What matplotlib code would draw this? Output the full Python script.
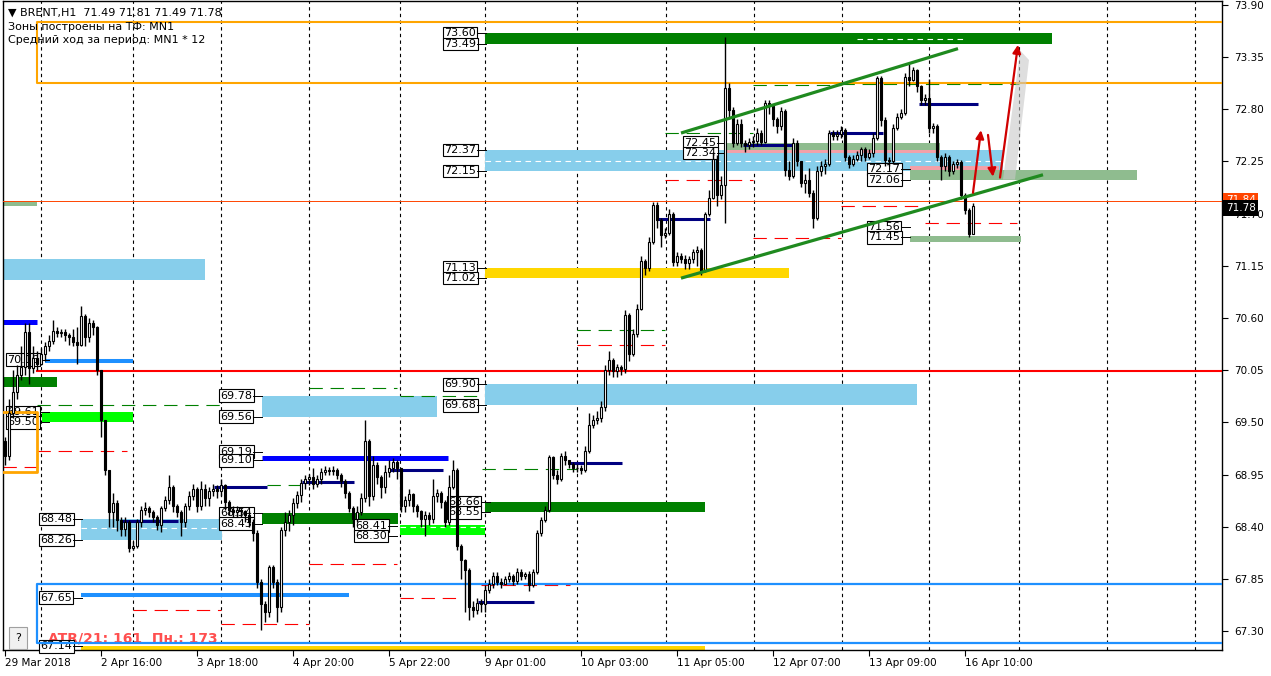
import numpy as np
import matplotlib
matplotlib.use("Agg")
import matplotlib.pyplot as plt
from matplotlib.patches import Rectangle, Polygon
from matplotlib.transforms import blended_transform_factory

plt.rcParams['font.family'] = ['DejaVu Sans']

# ---------------- data (hourly BRENT candles) ----------------
first_open = 69.30
closes = [
    69.15, 69.60, 69.82, 70.00, 70.08, 70.45, 70.07, 70.18, 70.12, 70.22,
    70.30, 70.36, 70.46, 70.44, 70.45, 70.42, 70.40, 70.35, 70.32, 70.62,
    70.40, 70.55, 70.50, 70.05, 69.52, 69.00, 68.55, 68.65, 68.47, 68.38,
    68.45, 68.18, 68.20, 68.45, 68.58, 68.60, 68.55, 68.50, 68.42, 68.60,
    68.68, 68.82, 68.62, 68.55, 68.45, 68.62, 68.72, 68.80, 68.62, 68.80,
    68.70, 68.78, 68.80, 68.78, 68.84, 68.66, 68.58, 68.55, 68.58, 68.56,
    68.52, 68.45, 68.33, 67.82, 67.58, 67.50, 67.97, 67.82, 67.55, 68.36,
    68.45, 68.52, 68.65, 68.73, 68.86, 68.90, 68.92, 68.85, 68.90, 68.98,
    69.00, 68.99, 69.00, 68.95, 68.88, 68.76, 68.60, 68.48, 68.55, 68.70,
    69.30, 68.72, 69.05, 68.92, 68.82, 68.98, 69.02, 69.08, 69.02, 68.62,
    68.68, 68.74, 68.62, 68.56, 68.48, 68.52, 68.48, 68.72, 68.76, 68.66,
    68.45, 68.82, 69.00, 68.20, 68.05, 67.94, 67.55, 67.52, 67.60, 67.58,
    67.73, 67.80, 67.88, 67.82, 67.80, 67.85, 67.88, 67.83, 67.92, 67.88,
    67.90, 67.78, 67.92, 68.33, 68.47, 68.58, 69.13, 68.95, 68.90, 69.15,
    69.10, 69.06, 69.02, 69.02, 69.00, 69.20, 69.47, 69.52, 69.55, 69.66,
    70.05, 70.16, 70.04, 70.08, 70.06, 70.63, 70.22, 70.43, 70.70, 71.20,
    71.13, 71.40, 71.79, 71.63, 71.47, 71.50, 71.70, 71.19, 71.25, 71.22,
    71.18, 71.22, 71.30, 71.32, 71.10, 71.70, 71.87, 72.28, 71.90, 72.00,
    73.02, 72.79, 72.45, 72.65, 72.45, 72.42, 72.46, 72.47, 72.55, 72.46,
    72.87, 72.84, 72.70, 72.62, 72.78, 72.16, 72.10, 72.45, 72.25, 72.02,
    72.05, 71.92, 71.65, 72.15, 72.20, 72.22, 72.55, 72.52, 72.54, 72.58,
    72.30, 72.22, 72.28, 72.32, 72.38, 72.30, 72.34, 72.50, 73.13, 72.69,
    72.27, 72.25, 72.60, 72.72, 72.76, 73.14, 73.11, 73.21, 73.05, 72.90,
    72.92, 72.60, 72.62, 72.30, 72.20, 72.30, 72.15, 72.22, 72.24, 71.90,
    71.74, 71.49, 71.78]
highs = [
    69.35, 69.75, 70.05, 70.10, 70.30, 70.55, 70.55, 70.30, 70.25, 70.28,
    70.35, 70.42, 70.58, 70.50, 70.48, 70.48, 70.44, 70.48, 70.50, 70.73,
    70.64, 70.60, 70.58, 70.52, 70.05, 69.52, 69.00, 68.75, 68.68, 68.50,
    68.50, 68.47, 68.25, 68.48, 68.62, 68.66, 68.62, 68.58, 68.52, 68.62,
    68.72, 68.95, 68.84, 68.64, 68.58, 68.65, 68.78, 68.85, 68.82, 68.88,
    68.85, 68.82, 68.85, 68.84, 68.90, 68.85, 68.68, 68.62, 68.62, 68.60,
    68.58, 68.56, 68.48, 68.36, 67.85, 67.62, 68.00, 68.00, 67.85, 68.40,
    68.55, 68.58, 68.70, 68.78, 68.90, 68.95, 68.96, 69.02, 68.95, 69.02,
    69.04, 69.03, 69.04, 69.02, 68.97, 68.90, 68.78, 68.62, 68.62, 68.75,
    69.52, 69.32, 69.15, 69.08, 68.95, 69.05, 69.10, 69.12, 69.10, 69.02,
    68.72, 68.80, 68.76, 68.64, 68.58, 68.56, 68.55, 68.90, 68.80, 68.78,
    68.68, 68.95, 69.10, 69.02, 68.22, 68.06, 67.96, 67.62, 67.65, 67.64,
    67.78, 67.85, 67.92, 67.92, 67.86, 67.88, 67.92, 67.90, 67.96, 67.95,
    67.92, 67.93, 67.95, 68.36, 68.50, 68.62, 69.16, 69.15, 69.00, 69.18,
    69.20, 69.10, 69.08, 69.06, 69.05, 69.25, 69.60, 69.58, 69.62, 69.72,
    70.10, 70.25, 70.18, 70.12, 70.10, 70.68, 70.65, 70.48, 70.75, 71.25,
    71.22, 71.45, 71.82, 71.82, 71.65, 71.55, 71.75, 71.72, 71.30, 71.28,
    71.26, 71.25, 71.33, 71.36, 71.34, 71.72, 71.95, 72.35, 72.32, 72.10,
    73.56, 73.08, 72.82, 72.70, 72.70, 72.48, 72.50, 72.52, 72.60, 72.58,
    72.90, 72.90, 72.85, 72.72, 72.82, 72.80, 72.25, 72.50, 72.48, 72.25,
    72.12, 72.18, 71.95, 72.20, 72.25, 72.28, 72.58, 72.58, 72.58, 72.62,
    72.60, 72.32, 72.32, 72.36, 72.40, 72.40, 72.38, 72.55, 73.15, 73.15,
    72.72, 72.30, 72.65, 72.76, 72.80, 73.18, 73.28, 73.25, 73.22, 73.06,
    72.96, 73.12, 72.66, 72.64, 72.32, 72.34, 72.32, 72.26, 72.28, 72.27,
    71.92, 71.76, 71.81]
lows = [
    69.05, 69.10, 69.55, 69.75, 69.95, 70.00, 69.90, 70.02, 70.05, 70.10,
    70.15, 70.25, 70.33, 70.40, 70.40, 70.36, 70.32, 70.30, 70.12, 70.30,
    70.30, 70.35, 70.42, 70.00, 69.35, 68.95, 68.40, 68.40, 68.35, 68.30,
    68.30, 68.13, 68.15, 68.18, 68.40, 68.52, 68.50, 68.45, 68.36, 68.34,
    68.56, 68.64, 68.55, 68.50, 68.30, 68.40, 68.58, 68.68, 68.55, 68.58,
    68.62, 68.62, 68.72, 68.70, 68.72, 68.58, 68.52, 68.50, 68.50, 68.50,
    68.45, 68.40, 68.25, 67.75, 67.31, 67.40, 67.45, 67.75, 67.40, 67.50,
    68.30, 68.35, 68.42, 68.60, 68.66, 68.80, 68.84, 68.80, 68.82, 68.85,
    68.95, 68.95, 68.95, 68.90, 68.82, 68.70, 68.55, 68.40, 68.45, 68.52,
    68.66, 68.62, 68.68, 68.85, 68.70, 68.75, 68.92, 68.98, 68.90, 68.55,
    68.55, 68.62, 68.55, 68.50, 68.40, 68.30, 68.42, 68.44, 68.66, 68.60,
    68.40, 68.42, 68.80, 68.15, 67.85, 67.50, 67.42, 67.45, 67.48, 67.50,
    67.50, 67.70, 67.75, 67.78, 67.75, 67.80, 67.82, 67.78, 67.80, 67.84,
    67.85, 67.72, 67.76, 67.90, 68.30, 68.45, 68.55, 68.90, 68.85, 68.88,
    69.05, 69.02, 68.98, 68.98, 68.96, 68.98, 69.18, 69.44, 69.48, 69.50,
    69.62, 70.00, 69.98, 69.98, 70.00, 70.02, 70.15, 70.20, 70.40, 70.68,
    71.05, 71.10, 71.38, 71.55, 71.35, 71.44, 71.48, 71.15, 71.15, 71.18,
    71.12, 71.12, 71.18, 71.15, 71.05, 71.08, 71.68, 71.85, 71.78, 71.85,
    71.60, 72.70, 72.40, 72.42, 72.40, 72.35, 72.38, 72.40, 72.42, 72.42,
    72.44, 72.75, 72.62, 72.55, 72.58, 72.10, 72.05, 72.08, 72.20, 71.98,
    71.92, 71.88, 71.55, 71.63, 72.10, 72.12, 72.20, 72.48, 72.48, 72.50,
    72.25, 72.18, 72.20, 72.26, 72.25, 72.26, 72.28, 72.30, 72.48, 72.62,
    72.20, 72.20, 72.22, 72.58, 72.70, 72.74, 73.05, 73.10, 72.98, 72.85,
    72.85, 72.55, 72.55, 72.25, 72.05, 72.15, 72.10, 72.12, 72.18, 71.85,
    71.70, 71.45, 71.49]
opens = [first_open] + closes[:-1]

time_labels = ["29 Mar 2018", "2 Apr 16:00", "3 Apr 18:00", "4 Apr 20:00",
               "5 Apr 22:00", "9 Apr 01:00", "10 Apr 03:00", "11 Apr 05:00",
               "12 Apr 07:00", "13 Apr 09:00", "16 Apr 10:00"]
price_ticks = [73.90, 73.35, 72.80, 72.25, 71.70, 71.15, 70.60, 70.05,
               69.50, 68.95, 68.40, 67.85, 67.30]

# zones: (bar_from, bar_to, low, high)
sky_zones = [(120, 249.5, 72.15, 72.37), (-0.5, 50, 71.00, 71.22),
             (64.25, 108, 69.56, 69.78), (120, 228, 69.68, 69.90),
             (19, 54.25, 68.26, 68.48)]
gold_zones = [(120, 196, 71.02, 71.13), (19, 175, 67.05, 67.14)]
dgreen_zones = [(120, 261.75, 73.49, 73.60), (120, 175, 68.55, 68.66),
                (64.25, 98.25, 68.43, 68.54), (-0.5, 13, 69.87, 69.98)]
lime_zones = [(9.25, 32, 69.50, 69.61), (98.75, 120, 68.31, 68.42)]
pink_zones = [(180.25, 233.75, 72.34, 72.37), (226.25, 248.5, 72.16, 72.20)]
sage_zones = [(-0.5, 8, 71.78, 71.83), (180.25, 233.75, 72.37, 72.45),
              (226.25, 283, 72.05, 72.16), (226.25, 254, 71.40, 71.46)]

navy_levels = [(29.25, 43.25, 68.46), (52.25, 65.5, 68.82), (74.25, 87.25, 68.87),
               (96.25, 109.5, 69.00), (118.25, 132.25, 67.61), (141.25, 154.25, 69.07),
               (163.25, 176.25, 71.64), (184.5, 197, 72.42), (206.25, 219.5, 72.55),
               (228.5, 243.25, 72.86)]
blue_levels = [(-0.5, 8, 70.555), (64.25, 110.75, 69.125)]
dodger_levels = [(10, 32, 70.15), (19, 86, 67.68)]
red_dash_levels = [(8, 30.5, 69.20), (-0.5, 8, 69.03), (32, 54, 67.52), (54, 76, 67.37),
                   (76, 98, 68.01), (98.75, 114.5, 67.65), (119, 141.25, 67.79),
                   (143, 165, 70.32), (165, 187, 72.05), (187, 209, 71.44),
                   (209, 230, 71.78), (230, 253, 71.60)]
green_dash_levels = [(8, 54, 69.68), (65.5, 76, 68.84), (76, 98, 69.86),
                     (98.75, 118.75, 69.78), (119.25, 143, 69.01), (143, 165, 70.47),
                     (165, 187, 72.55), (187, 209, 73.06), (209, 253.5, 73.07)]

orange_box_top = (8, 73.08, 73.72)
orange_box_left = (8, 68.98, 69.61)
blue_box = (8, 67.17, 67.80)
red_level = (8, 70.04)
ask_level = 71.83
bid_price = 71.78
ask_price = 71.84

channel_upper = [(169, 72.55), (238.25, 73.44)]
channel_lower = [(169, 71.02), (259.5, 72.11)]
arrows = [((242, 71.92), (244, 72.58)),
          ((245.75, 72.53), (247, 72.09)),
          ((248.75, 72.08), (253.25, 73.48))]

# price labels: (bar_left, price)
label_boxes = [(109.5, 73.60), (109.5, 73.49), (109.5, 72.37), (109.5, 72.15),
               (109.5, 71.13), (109.5, 71.02), (109.5, 69.90), (109.5, 69.68),
               (110.5, 68.66), (110.5, 68.55),
               (53.5, 69.78), (53.5, 69.56), (53.5, 69.19), (53.5, 69.10),
               (53.5, 68.54), (53.5, 68.43), (87.25, 68.41), (87.25, 68.30),
               (8.5, 68.48), (8.5, 68.26), (8.5, 67.65), (8.5, 67.14),
               (0.25, 70.16), (0.25, 69.61), (0.25, 69.50),
               (169.5, 72.45), (169.5, 72.34),
               (215.5, 72.17), (215.5, 72.06), (215.5, 71.56), (215.5, 71.45)]

# ---------------- figure ----------------
W, H = 1271, 676
fig = plt.figure(figsize=(W / 100, H / 100), dpi=100)
fig.patch.set_facecolor('white')
ax = fig.add_axes([3 / W, 1 - 650 / H, (1222 - 3) / W, 649 / H])
ax.set_facecolor('white')
XMAX = 304.25
ax.set_xlim(-0.5, XMAX)
ax.set_ylim(67.0998, 73.942)

# grid (vertical dotted)
grid_px = [41, 133, 221, 309, 400, 485, 577, 666, 754, 842, 929, 1019, 1107, 1195]
for gp in grid_px:
    ax.axvline((gp - 5) / 4, color='black', lw=0.8, ls=(0, (3, 3)), zorder=0.5)

def zone(lst, color, z=1.0):
    for x0, x1, lo, hi in lst:
        ax.add_patch(Rectangle((x0, lo), x1 - x0, hi - lo, facecolor=color,
                               edgecolor='none', zorder=z))

zone(sky_zones, '#87CEEB')
zone(gold_zones, '#FFD700')
zone(dgreen_zones, '#008000')
zone(lime_zones, '#00FF00')
zone(pink_zones, '#F2A0A8', 1.1)
zone(sage_zones, '#8FBC8F', 1.1)

# white dashed mid-lines inside some zones
for x0, x1, p in [(120, 249.5, 72.26), (19, 54.25, 68.39), (98.75, 120, 68.40),
                  (213, 240, 73.545)]:
    ax.plot([x0, x1], [p, p], color='white', lw=0.8, ls=(0, (5, 4)), zorder=1.5)

# ATR text (under lines)
ax.text(10.75, 67.175, 'ATR/21: 161  Пн.: 173', color='#FF4F4F', fontsize=10,
        fontweight='bold', ha='left', va='baseline', zorder=2, clip_on=True)

for x0, x1, p in red_dash_levels:
    ax.plot([x0, x1], [p, p], color='#FF0000', lw=0.8, ls=(0, (12, 7)), zorder=2)
for x0, x1, p in green_dash_levels:
    ax.plot([x0, x1], [p, p], color='#008000', lw=0.8, ls=(0, (12, 7)), zorder=2)
for x0, x1, p in navy_levels:
    ax.plot([x0, x1], [p, p], color='#000080', lw=2.2, solid_capstyle='butt', zorder=2.5)
for x0, x1, p in blue_levels:
    ax.plot([x0, x1], [p, p], color='#0000FF', lw=3.6, solid_capstyle='butt', zorder=2.5)
for x0, x1, p in dodger_levels:
    ax.plot([x0, x1], [p, p], color='#1E90FF', lw=2.9, solid_capstyle='butt', zorder=2.5)

# rectangles outlines and level lines
bx, lo, hi = orange_box_top
ax.plot([XMAX + 5, bx, bx, XMAX + 5], [hi, hi, lo, lo], color='#FFA500', lw=1.5, zorder=4)
bx, lo, hi = orange_box_left
ax.plot([-5, bx, bx, -5], [hi, hi, lo, lo], color='#FFA500', lw=2.0, zorder=4)
bx, lo, hi = blue_box
ax.plot([XMAX + 5, bx, bx, XMAX + 5], [hi, hi, lo, lo], color='#1E90FF', lw=1.6, zorder=4)
ax.plot([red_level[0], XMAX + 5], [red_level[1]] * 2, color='#FF0000', lw=1.5, zorder=4)
ax.plot([-1, XMAX + 5], [ask_level] * 2, color='#FF4500', lw=0.7, zorder=4)

# label boxes
for lx, p in label_boxes:
    ax.text(lx + 0.35, p, f"{p:.2f}", fontsize=8, color='black', ha='left', va='center',
            zorder=3, bbox=dict(boxstyle='square,pad=0.12', fc='white', ec='black', lw=0.8))
    ax.plot([lx + 8.4, lx + 10.75], [p, p], color='black', lw=0.7, zorder=3)

# candles
x = np.arange(len(closes))
o = np.array(opens)
c = np.array(closes)
h = np.array(highs)
l = np.array(lows)
up = c >= o
ax.vlines(x, l, h, color='black', lw=1.0, zorder=5)
bottom = np.minimum(o, c)
height = np.abs(c - o)
ax.bar(x[up], height[up], bottom=bottom[up], width=0.7, color='white',
       edgecolor='black', linewidth=0.8, zorder=6)
ax.bar(x[~up], height[~up], bottom=bottom[~up], width=0.7, color='black',
       edgecolor='black', linewidth=0.8, zorder=6)

# channel
for seg in (channel_upper, channel_lower):
    ax.plot([seg[0][0], seg[1][0]], [seg[0][1], seg[1][1]], color='#1F8A1F', lw=2.3,
            solid_capstyle='butt', zorder=7)

# shadow and arrows
ax.add_patch(Polygon([(249.5, 72.06), (252.5, 72.06), (256.0, 73.32), (253.8, 73.42)],
                     closed=True, facecolor='#C8C8C8', edgecolor='none', alpha=0.6, zorder=6.5))
for (x0, y0), (x1, y1) in arrows:
    ax.annotate('', xy=(x1, y1), xytext=(x0, y0),
                arrowprops=dict(arrowstyle='-|>', color='#D00000', lw=1.6,
                                mutation_scale=12, shrinkA=0, shrinkB=0), zorder=8)

# axes styling
for s in ax.spines.values():
    s.set_color('black')
    s.set_linewidth(1.0)
ax.yaxis.tick_right()
ax.set_yticks(price_ticks)
ax.set_yticklabels([f"{p:.2f}" for p in price_ticks])
ax.tick_params(axis='y', direction='out', length=4, width=0.8, labelsize=7.5, pad=5,
               colors='black')
ax.set_xticks(np.arange(len(time_labels)) * 24)
ax.set_xticklabels(time_labels)
ax.tick_params(axis='x', direction='out', length=4, width=0.8, labelsize=7.5, pad=2)
for lbl in ax.get_xticklabels():
    lbl.set_horizontalalignment('left')

# right-axis price boxes
trans = blended_transform_factory(ax.transAxes, ax.transData)
ax.text(1.003, ask_price, f"{ask_price:.2f}", transform=trans, fontsize=7.5, color='white',
        ha='left', va='center', clip_on=False, zorder=10,
        bbox=dict(boxstyle='square,pad=0.25', fc='#FF4500', ec='none'))
ax.text(1.003, bid_price - 0.02, f"{bid_price:.2f}", transform=trans, fontsize=7.5,
        color='white', ha='left', va='center', clip_on=False, zorder=11,
        bbox=dict(boxstyle='square,pad=0.25', fc='black', ec='none'))

# header texts
fig.text(8 / W, 1 - 13 / H, '▼ BRENT,H1  71.49 71.81 71.49 71.78', fontsize=8,
         va='center', ha='left', color='black')
fig.text(8 / W, 1 - 27 / H, 'Зоны построены на ТФ: MN1', fontsize=8,
         va='center', ha='left', color='black')
fig.text(8 / W, 1 - 40 / H, 'Средний ход за период: MN1 * 12', fontsize=8,
         va='center', ha='left', color='black')
fig.text(18 / W, 1 - 638 / H, '?', fontsize=8, va='center', ha='center', color='black',
         bbox=dict(boxstyle='square,pad=0.55', fc='#F0F0F0', ec='#A0A0A0', lw=0.8))

fig.savefig('out.png', dpi=100, facecolor='white')
